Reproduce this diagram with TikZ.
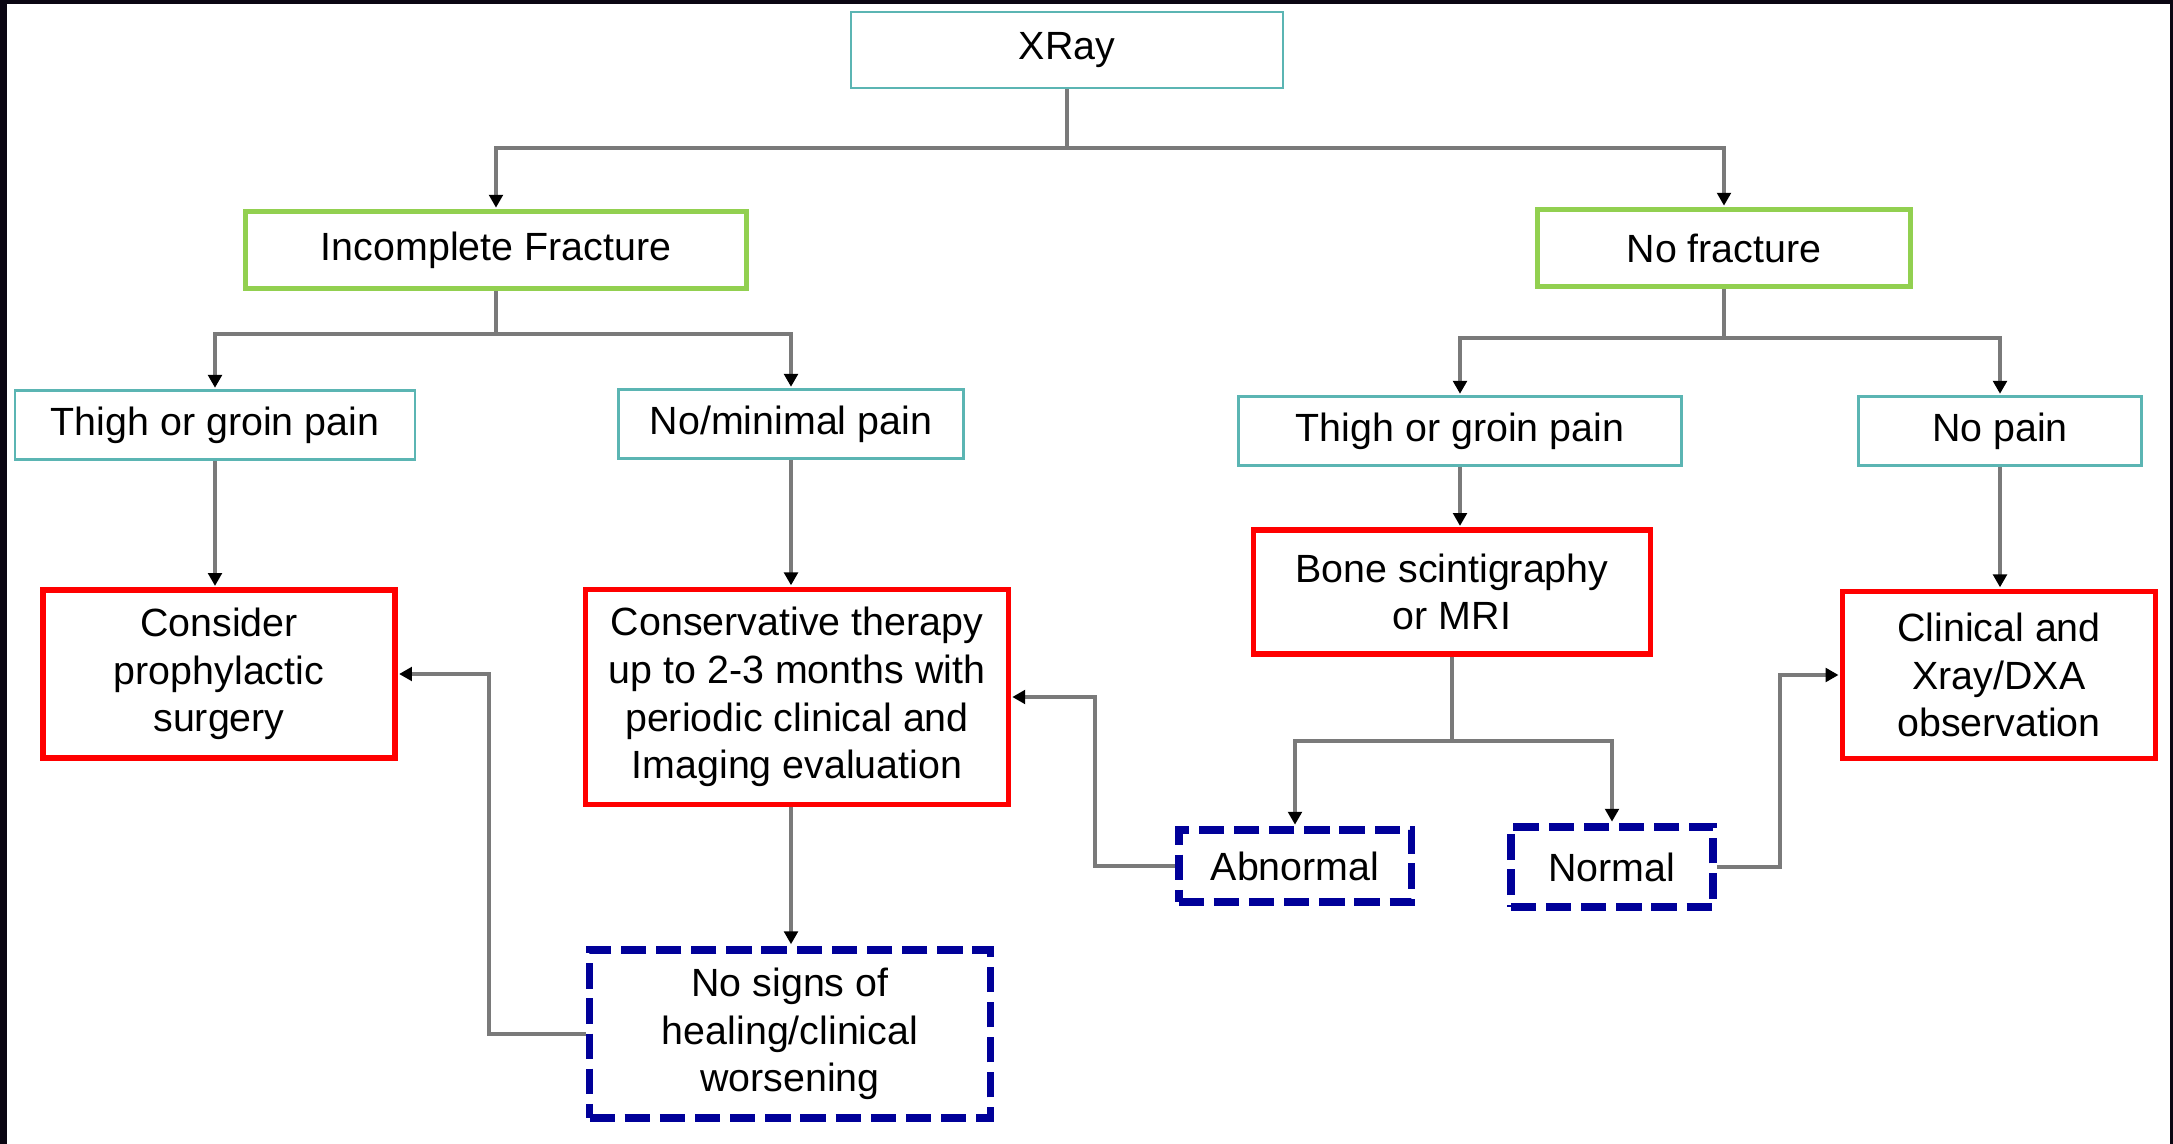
\documentclass[tikz,border=0pt]{standalone}
\usepackage{fontspec}
\setmainfont{Liberation Sans}
\usetikzlibrary{arrows.meta}

\definecolor{frameink}{HTML}{0A0612}
\definecolor{boxteal}{HTML}{5BB5B3}
\definecolor{boxgreen}{HTML}{92D050}
\definecolor{boxnavy}{HTML}{000099}
\definecolor{linegray}{HTML}{7A7A7A}

\begin{document}
\begin{tikzpicture}[x=0.0125cm, y=-0.0125cm,
  every node/.style={font=\fontsize{14}{17}\selectfont, align=center, inner sep=2pt},
  tealbox/.style={draw=boxteal, line width=1pt, minimum height=0.86cm},
  greenbox/.style={draw=boxgreen, line width=1.8pt, minimum height=0.96cm},
  redbox/.style={draw=red, line width=1.9pt},
  navybox/.style={draw=boxnavy, line width=2.8pt, dash pattern=on 9pt off 3.5pt},
  conn/.style={draw=linegray, line width=1.1pt,
    -{Triangle[length=1.6mm,width=1.7mm,color=black]}, shorten >=0.5pt}]

  % frame and page
  \useasboundingbox (0,0) rectangle (2173,1144);
  \fill[frameink] (0,0) rectangle (2173,1144);
  \fill[white] (7,4) rectangle (2170,1144);

  % top level
  \node [tealbox, minimum width=5.4cm, minimum height=0.95cm] (xray) at (1067,50) {XRay};
  \node [greenbox, minimum width=6.26cm] (incomp) at (496,250) {Incomplete Fracture};
  \node [greenbox, minimum width=4.66cm] (nofrac) at (1724,248) {No fracture};

  % incomplete fracture branch
  \node [tealbox, minimum width=5.0cm] (thighL) at (215,425) {Thigh or groin pain};
  \node [tealbox, minimum width=4.31cm] (minpain) at (791,424) {No/minimal pain};
  \node [redbox, minimum width=4.4cm, minimum height=2.1cm] (surgery) at (219,674)
    {Consider\\prophylactic\\surgery};
  \node [redbox, minimum width=5.28cm, minimum height=2.69cm] (conserv) at (797,697)
    {Conservative therapy\\up to 2-3 months with\\periodic clinical and\\Imaging evaluation};
  \node [navybox, minimum width=5.01cm, minimum height=2.11cm] (nosigns) at (790,1034)
    {No signs of\\healing/clinical\\worsening};

  % no fracture branch
  \node [tealbox, minimum width=5.53cm] (thighR) at (1460,431) {Thigh or groin pain};
  \node [tealbox, minimum width=3.53cm] (nopain) at (2000,431) {No pain};
  \node [redbox, minimum width=4.96cm, minimum height=1.55cm] (bone) at (1452,592)
    {Bone scintigraphy\\or MRI};
  \node [redbox, minimum width=3.91cm, minimum height=2.09cm] (clinical) at (1999,675)
    {Clinical and\\Xray/DXA\\observation};
  \node [navybox, minimum width=2.91cm, minimum height=0.9cm] (abnormal) at (1295,866) {Abnormal};
  \node [navybox, minimum width=2.53cm, minimum height=1.0cm] (normal) at (1612,867) {Normal};

  % bars where the tree splits
  \coordinate (topbar) at (0,148);
  \coordinate (leftbar) at (0,334);
  \coordinate (rightbar) at (0,338);
  \coordinate (bonebar) at (0,741);
  \coordinate (backL) at (489,0);
  \coordinate (backM) at (1095,0);
  \coordinate (backR) at (1780,0);

  \draw [conn] (xray.south) -- (xray.south |- topbar) -| (incomp.north);
  \draw [conn] (xray.south |- topbar) -| (nofrac.north);
  \draw [conn] (incomp.south) -- (incomp.south |- leftbar) -| (thighL.north);
  \draw [conn] (incomp.south |- leftbar) -| (minpain.north);
  \draw [conn] (nofrac.south) -- (nofrac.south |- rightbar) -| (thighR.north);
  \draw [conn] (nofrac.south |- rightbar) -| (nopain.north);

  \draw [conn] (thighL.south) -- (thighL.south |- surgery.north);
  \draw [conn] (minpain.south) -- (minpain.south |- conserv.north);
  \draw [conn] (minpain.south |- conserv.south) -- (minpain.south |- nosigns.north);
  \draw [conn] (thighR.south) -- (thighR.south |- bone.north);
  \draw [conn] (nopain.south) -- (nopain.south |- clinical.north);

  \draw [conn] (bone.south) -- (bone.south |- bonebar) -| (abnormal.north);
  \draw [conn] (bone.south |- bonebar) -| (normal.north);

  % loops back to earlier steps
  \draw [conn] (nosigns.west) -- (nosigns.west -| backL) |- (surgery.east);
  \draw [conn] (abnormal.west) -- (abnormal.west -| backM) |- (conserv.east);
  \draw [conn] (normal.east) -- (normal.east -| backR) |- (clinical.west);
\end{tikzpicture}
\end{document}
